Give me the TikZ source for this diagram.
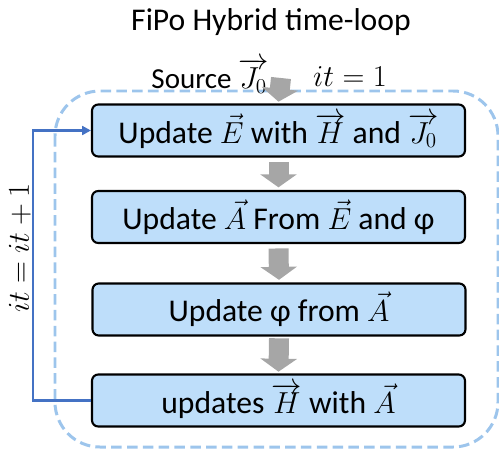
\documentclass[tikz,border=0pt]{standalone}
\usepackage{fontspec}
\setmainfont{Carlito}
\usetikzlibrary{arrows.meta}
\definecolor{boxblue}{RGB}{190,222,250}
\definecolor{dashblue}{RGB}{157,197,236}
\definecolor{loopblue}{RGB}{68,114,196}
\definecolor{arrgray}{RGB}{166,166,166}
\tikzset{
  updbox/.style={draw, line width=1.2pt, rounded corners=3.5pt, fill=boxblue,
    minimum width=7.46cm, minimum height=1.04cm, inner sep=0pt,
    font=\fontsize{18}{22}\selectfont},
  grayarr/.style={draw=arrgray, line width=0.4cm, -{Triangle[width=0.72cm,length=0.26cm]}},
}
\begin{document}
\begin{tikzpicture}[x=0.02cm, y=-0.02cm]
\useasboundingbox (0,0) rectangle (499,450);
\node[font=\fontsize{18}{22}\selectfont] (title) at (271,22) {FiPo Hybrid time-loop};
% dashed frame of the loop
\draw[dashblue, line width=1.7pt, dash pattern=on 6pt off 3pt, rounded corners=0.9cm] (55,91) rectangle (498,447);
\node[font=\fontsize{16.5}{20}\selectfont] (src) at (210,76) {Source $\overrightarrow{J_0}$};
\node[font=\fontsize{17}{20}\selectfont] (itone) at (350,77) {$it=1$};
\coordinate (srcend) at (281,78);
\node[updbox] (upd0) at (278.5,130.5) {Update $\vec{E}$ with $\overrightarrow{H}$ and $\overrightarrow{J_0}$};
\node[updbox] (upd1) at (278.5,217) {Update $\vec{A}$ From $\vec{E}$ and φ};
\node[updbox] (upd2) at (279,309.5) {Update φ from $\vec{A}$};
\node[updbox] (upd3) at (278.5,400.5) {updates $\overrightarrow{H}$ with $\vec{A}$};
\draw[grayarr] (srcend) -- ([yshift=1pt]upd0.north);
\draw[grayarr] ([yshift=-2.5pt]upd0.south) -- ([yshift=1.5pt]upd1.north);
\draw[grayarr] ([yshift=-2.5pt]upd1.south) -- ([yshift=1.5pt]upd2.north);
\draw[grayarr] ([yshift=-1pt]upd2.south) -- ([yshift=1pt]upd3.north);
% iteration loop
\draw[loopblue, line width=1.5pt, -{Triangle[length=5pt,width=5pt]}] (upd3.west) -- ++(-58,0) coordinate (lp) |- (upd0.west);
\node[rotate=90, font=\fontsize{16.5}{20}\selectfont] (itinc) at (20,248) {$it=it+1$};
\end{tikzpicture}
\end{document}
